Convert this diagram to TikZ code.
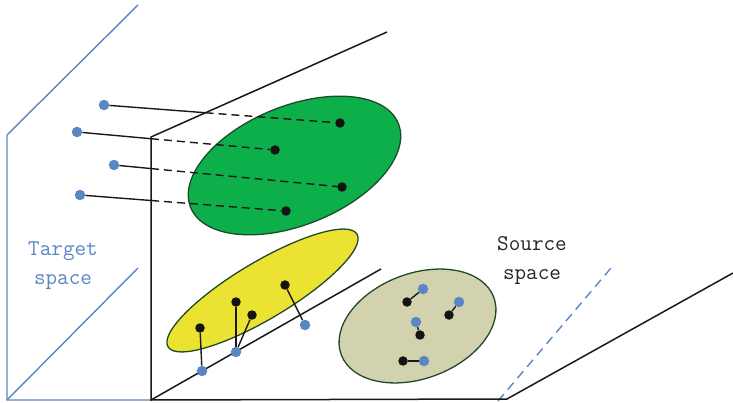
\documentclass[tikz,border=0pt]{standalone}
\usetikzlibrary{calc,shapes.geometric}
\definecolor{tblue}{HTML}{5B86C6}
\definecolor{tgreen}{HTML}{0DAF4B}
\definecolor{tyellow}{HTML}{ECE231}
\definecolor{tolive}{HTML}{D2D3AE}
\definecolor{tborder}{HTML}{1F4A2A}
\begin{document}
\begin{tikzpicture}[x=1pt,y=-1pt,
  edge/.style={line width=1.5pt, black!90},
  bedge/.style={line width=1.4pt, tblue},
  bdot/.style={circle, fill=tblue, inner sep=0pt, minimum size=10.5pt},
  kdot/.style={circle, fill=black!92, inner sep=0pt, minimum size=9.5pt},
  blob/.style={ellipse, draw=tborder, line width=1.3pt, inner sep=0pt},
  link/.style={line width=1.4pt, black!90},
  dlink/.style={link, dash pattern=on 8pt off 5pt},
  lbl/.style={font=\ttfamily\fontsize{22.5}{29}\selectfont, align=center}]
\useasboundingbox (0,0) rectangle (733,403);
% target plane
\coordinate (T0) at (7,400);
\coordinate (T1) at (7,135);
\coordinate (T2) at (138,5);
\coordinate (T3) at (138,268);
% source plane
\coordinate (P0) at (151,400);
\coordinate (P1) at (151,137);
\coordinate (P2) at (387,32);
\coordinate (P3) at (507,399);
\coordinate (P4) at (733,273);
\coordinate (P5) at (381,269);
\coordinate (D0) at (498,401);
\coordinate (D1) at (611,268);
\draw[bedge] (T2) -- (T1) -- (T0) -- (P0);
\draw[bedge] (T0) -- (T3);
\draw[bedge, dash pattern=on 9pt off 6pt] (D0) -- (D1);
\draw[edge] (P2) -- (P1) -- (P0) -- (P3) -- (P4);
\draw[edge] (P0) -- (P5);
% clusters
\node[blob, fill=tgreen, minimum width=224pt, minimum height=119pt, rotate=22] (G) at (294.5,165.5) {};
\node[blob, fill=tyellow, minimum width=220pt, minimum height=57pt, rotate=30.8] (Y) at (262.5,290.5) {};
\node[blob, fill=tolive, minimum width=163pt, minimum height=105pt, rotate=20.7] (O) at (417.5,326) {};
% labels
\node[lbl, text=tblue] (tl) at (63,266) {Target\\space};
\node[lbl, text=black!85] (sl) at (532,260) {Source\\space};
% mapped points (green)
\node[bdot] (b1) at (104,105) {};
\node[bdot] (b2) at (77,132) {};
\node[bdot] (b3) at (114,165) {};
\node[bdot] (b4) at (80,195) {};
\node[kdot] (k1) at (340,123) {};
\node[kdot] (k2) at (275,150) {};
\node[kdot] (k3) at (342,187) {};
\node[kdot] (k4) at (286,211) {};
\coordinate (x1) at (intersection of b1--k1 and P1--P2);
\coordinate (x2) at (intersection of b2--k2 and P0--P1);
\coordinate (x3) at (intersection of b3--k3 and P0--P1);
\coordinate (x4) at (intersection of b4--k4 and P0--P1);
\draw[link] (b1) -- (x1);
\draw[dlink] (x1) -- (k1);
\draw[link] (b2) -- (x2);
\draw[dlink] (x2) -- (k2);
\draw[link] (b3) -- (x3);
\draw[dlink] (x3) -- (k3);
\draw[link] (b4) -- (x4);
\draw[dlink] (x4) -- (k4);
% yellow cluster
\node[kdot] (y1) at (200,328) {};
\node[kdot] (y2) at (236,302) {};
\node[kdot] (y3) at (252,315) {};
\node[kdot] (y4) at (285,285) {};
\node[bdot] (c1) at (202,371) {};
\node[bdot] (c2) at (236,352) {};
\node[bdot] (c3) at (305,325) {};
\draw[link] (y1) -- (c1);
\draw[link] (y2) -- (c2);
\draw[link] (y3) -- (c2);
\draw[link] (y4) -- (c3);
% olive cluster
\node[kdot] (o1) at (407,302) {};
\node[bdot] (p1) at (423,289) {};
\node[kdot] (o2) at (449,315) {};
\node[bdot] (p2) at (459,302) {};
\node[kdot] (o3) at (420,335) {};
\node[bdot] (p3) at (416,322) {};
\node[kdot] (o4) at (403,361) {};
\node[bdot] (p4) at (424,361) {};
\draw[link] (o1) -- (p1);
\draw[link] (o2) -- (p2);
\draw[link] (o3) -- (p3);
\draw[link] (o4) -- (p4);
\end{tikzpicture}
\end{document}
